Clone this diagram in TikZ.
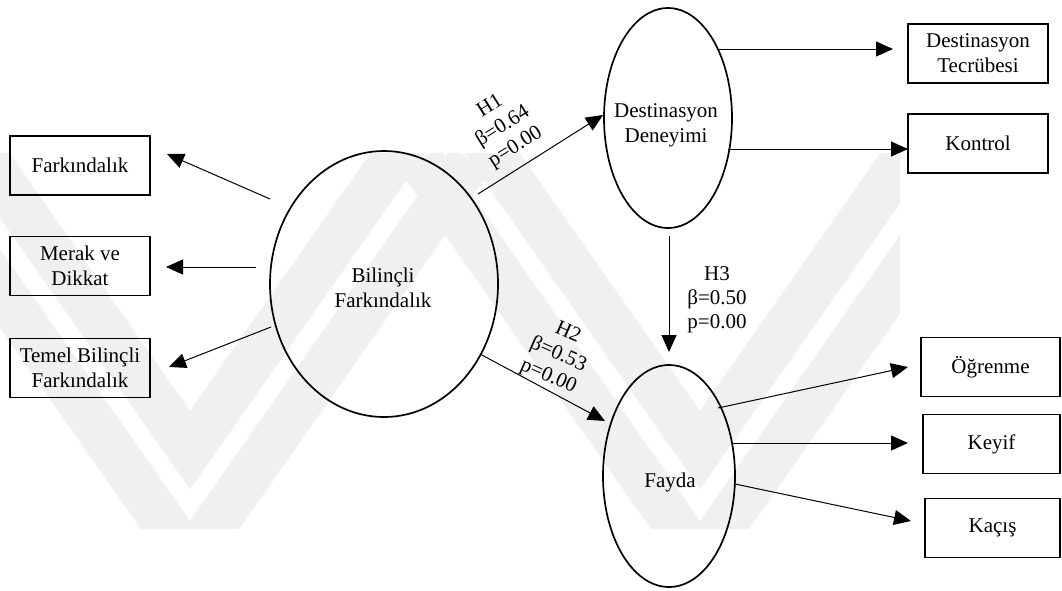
\documentclass[tikz,border=0pt]{standalone}
\usepackage{fontspec}
\setmainfont{Liberation Serif}
\usetikzlibrary{arrows.meta,shapes.geometric,calc}
\begin{document}
\begin{tikzpicture}[x=1pt,y=-1pt,
  every node/.style={font=\fontsize{21}{25}\selectfont, align=center, inner sep=0pt},
  box/.style={draw, line width=1.9pt, minimum width=140pt, minimum height=59pt},
  oval/.style={draw, ellipse, line width=1.7pt},
  arr/.style={line width=1pt, -{Triangle[length=17pt,width=15pt]}},
  lbl/.style={font=\fontsize{21}{24}\selectfont},
  wm/.style={line width=45pt, black!6, miter limit=10}
]
\useasboundingbox (0,0) rectangle (1062,590);
% watermark
\begin{scope}
\clip (0,153) rectangle (900,528);
\foreach \c/\a in {190/560, 190/450, 700/560, 700/450}
  \draw[wm] (\c-280,\a-400) -- (\c,\a) -- (\c+280,\a-400);
\end{scope}
% ellipses
\node[oval, minimum width=228pt, minimum height=266pt] (bf) at (384,284) {};
\node[oval, minimum width=128pt, minimum height=220pt] (dd) at (668,118) {};
\node[oval, minimum width=132pt, minimum height=222pt] (fy) at (669,476) {};
\node (bft) at (383,288) {Bilinçli\\Farkındalık};
\node (ddt) at (666,125) {Destinasyon\\Deneyimi};
\node (fyt) at (670,482) {Fayda};
% boxes
\node[box] (b1) at (80,165.5) {Farkındalık};
\node[box] (b2) at (80,266) {Merak ve\\Dikkat};
\node[box] (b3) at (80,368) {Temel Bilinçli\\Farkındalık};
\node[box] (b4) at (978,53.5) {Destinasyon\\Tecrübesi};
\node[box] (b5) at (978,143.5) {Kontrol};
\node[box, minimum width=139pt] (b6) at (990.5,367) {Öğrenme};
\node[box, minimum width=137pt] (b7) at (991.5,444) {Keyif};
\node[box, minimum width=135pt] (b8) at (992.5,528) {Kaçış};
% connectors
\draw[arr] ($(bf)+(-114,-85)$) -- ($(b1)+(87,-11.5)$);
\draw[arr] ($(bf)+(-128,-17)$) -- ($(b2)+(86,1)$);
\draw[arr] ($(bf)+(-113,43)$) -- ($(b3)+(89,-1)$);
\draw[arr] ($(bf)+(94,-90)$) -- ($(dd)+(-65,-3)$);
\draw[arr] ($(bf)+(96,70)$) -- ($(fy)+(-64,-55)$);
\draw[arr] ($(dd)+(1,118)$) -- ($(fy)+(0,-124)$);
\draw[arr] ($(dd)+(50,-69)$) -- ($(b4)+(-85,-4.5)$);
\draw[arr] ($(dd)+(60,31)$) -- ($(b5)+(-70,5.5)$);
\draw[arr] ($(fy)+(49,-68)$) -- ($(b6)+(-82.5,0)$);
\draw[arr] ($(fy)+(63,-33)$) -- ($(b7)+(-83.5,-1)$);
\draw[arr] ($(fy)+(66,8)$) -- ($(b8)+(-81.5,-7)$);
% labels
\node[lbl, rotate=32] (l1) at (503,127) {H1\\β=0.64\\p=0.00};
\node[lbl, rotate=-24] (l2) at (558,355) {H2\\β=0.53\\p=0.00};
\node[lbl] (l3) at (717,300) {H3\\β=0.50\\p=0.00};
\end{tikzpicture}
\end{document}
